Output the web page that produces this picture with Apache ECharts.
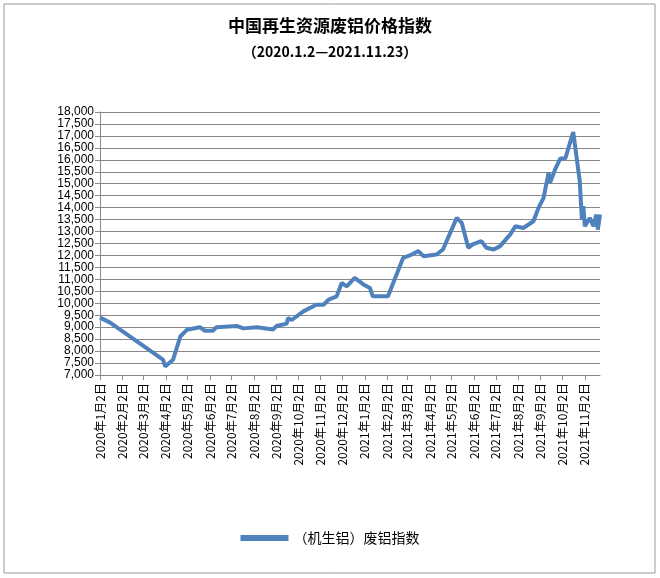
<!DOCTYPE html>
<html><head><meta charset="utf-8">
<script src="https://cdn.jsdelivr.net/npm/echarts@6/dist/echarts.min.js"></script>
<style>html,body{margin:0;padding:0;background:#fff}#c{width:660px;height:578px}</style>
</head><body><div id="c"></div>
<script>
var dates = ['2020-01-02','2020-01-04','2020-01-16','2020-03-29','2020-04-01','2020-04-12','2020-04-22','2020-05-01','2020-05-19','2020-05-26','2020-06-06','2020-06-11','2020-07-09','2020-07-18','2020-08-06','2020-08-28','2020-09-02','2020-09-16','2020-09-18','2020-09-23','2020-10-09','2020-10-27','2020-11-06','2020-11-13','2020-11-24','2020-12-01','2020-12-08','2020-12-19','2020-12-31','2021-01-09','2021-01-13','2021-02-03','2021-02-24','2021-03-05','2021-03-17','2021-03-24','2021-04-11','2021-04-20','2021-05-09','2021-05-16','2021-05-25','2021-05-31','2021-06-12','2021-06-19','2021-06-29','2021-07-08','2021-07-22','2021-07-29','2021-08-09','2021-08-23','2021-08-30','2021-09-06','2021-09-13','2021-09-15','2021-09-22','2021-09-29','2021-10-06','2021-10-17','2021-10-26','2021-10-29','2021-10-31','2021-11-02','2021-11-09','2021-11-14','2021-11-18','2021-11-20','2021-11-23'];
var values = [9400,9430,9190,7640,7360,7640,8610,8890,9000,8850,8850,9000,9050,8950,9000,8900,9050,9150,9385,9300,9660,9940,9940,10150,10290,10850,10710,11060,10790,10640,10290,10290,11900,12000,12180,11970,12040,12250,13570,13360,12320,12460,12600,12320,12250,12390,12880,13220,13150,13430,13990,14410,15460,15040,15600,16050,16050,17160,15110,13500,14060,13220,13570,13220,13710,13080,13710];
var seriesName = '（机生铝）废铝指数';
function ts(s){var p=s.split('-');return Date.UTC(+p[0],+p[1]-1,+p[2]);}
var tickDates = [];
for (var y = 2020; y <= 2021; y++) for (var m = 1; m <= 12; m++) {
  if (y === 2021 && m > 11) break;
  tickDates.push(Date.UTC(y, m - 1, 2));
}
var chart = echarts.init(document.getElementById('c'));
chart.setOption({
  graphic: [{type:'rect', shape:{x:4,y:4,width:651,height:569}, style:{fill:'none', stroke:'#999', lineWidth:1}}],
  title: [
    {text:'中国再生资源废铝价格指数', left:'center', top:12, textStyle:{fontSize:17, fontWeight:'bold', color:'#000', fontFamily:'Noto Sans CJK SC'}},
    {text:'（2020.1.2—2021.11.23）', left:'center', top:40, textStyle:{fontSize:14, fontWeight:'bold', color:'#000', fontFamily:'Noto Sans CJK SC'}}
  ],
  legend: {bottom:28, left:'center', data:[seriesName], itemWidth:48, itemHeight:6, icon:'rect', textStyle:{fontSize:14, color:'#000', fontFamily:'Noto Sans CJK SC'}},
  grid: {left:100, right:60, top:112, bottom:203, containLabel:false},
  xAxis: {type:'value', min:ts('2020-01-02'), max:ts('2021-11-23'),
    axisLine:{lineStyle:{color:'#888'}}, splitLine:{show:false},
    axisTick:{show:true, customValues:tickDates, lineStyle:{color:'#888'}},
    axisLabel:{customValues:tickDates, rotate:90, fontSize:12, color:'#000', fontFamily:'Noto Sans CJK SC',
      formatter:function(v){var d=new Date(v);return d.getUTCFullYear()+'年'+(d.getUTCMonth()+1)+'月'+d.getUTCDate()+'日';}}},
  yAxis: {type:'value', min:7000, max:18000, interval:500,
    axisLine:{show:true, lineStyle:{color:'#888'}},
    axisLabel:{fontSize:12, color:'#000', margin:6},
    splitLine:{lineStyle:{color:'#888', width:1}}},
  series: [{name:seriesName, type:'line', symbol:'none', data:dates.map(function(d,i){return [ts(d), values[i]];}),
    lineStyle:{color:'#4f81bd', width:4}, itemStyle:{color:'#4f81bd'}}]
});
</script></body></html>
